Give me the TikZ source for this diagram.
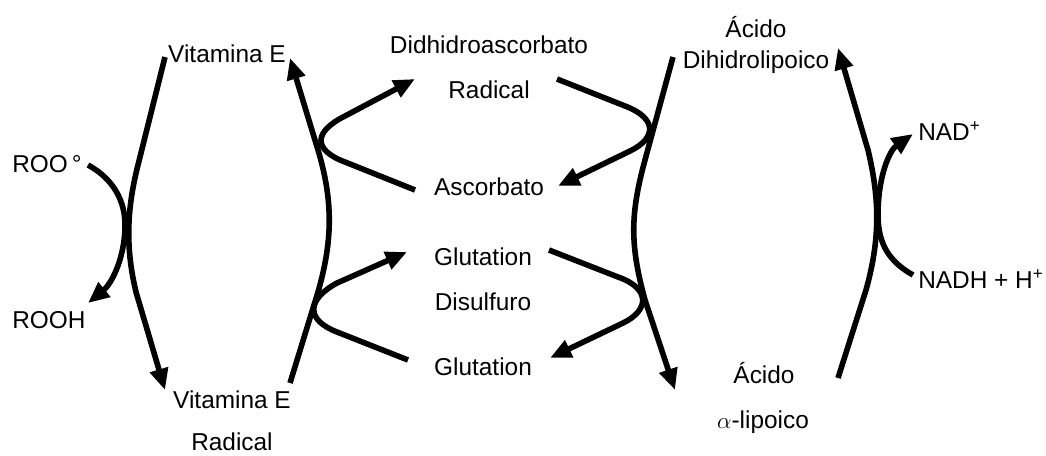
\documentclass[tikz,border=0pt]{standalone}
\usepackage{fontspec}
\setmainfont{Liberation Sans}
\usetikzlibrary{arrows.meta}
\begin{document}
\begin{tikzpicture}[x=0.75pt,y=-0.75pt,
  lbl/.style={inner sep=0pt,font=\fontsize{18.3}{22}\selectfont},
  rx/.style={line width=4.2pt,line join=round},
  rxa/.style={rx,-{Triangle[length=16pt,width=13.5pt]}}]
\useasboundingbox (0,0) rectangle (1046,455);
% labels
\node[lbl,anchor=base] (vitE) at (227,62) {Vitamina E};
\node[lbl,anchor=base west] (roo) at (12,172) {ROO\,°};
\node[lbl,anchor=base west] (rooh) at (12,328) {ROOH};
\node[lbl,anchor=base] (vitEr) at (232,408) {Vitamina E};
\node[lbl,anchor=base] (vitErad) at (232,450) {Radical};
\node[lbl,anchor=base] (dha) at (489,53) {Didhidroascorbato};
\node[lbl,anchor=base] (dhar) at (489,98) {Radical};
\node[lbl,anchor=base] (asc) at (489,195) {Ascorbato};
\node[lbl,anchor=base] (gssg) at (483,265) {Glutation};
\node[lbl,anchor=base] (gssgd) at (483,310) {Disulfuro};
\node[lbl,anchor=base] (gsh) at (483,375) {Glutation};
\node[lbl,anchor=base] (dhla) at (756,37) {Ácido};
\node[lbl,anchor=base] (dhlab) at (756,68) {Dihidrolipoico};
\node[lbl,anchor=base west] (nad) at (918,140) {NAD\textsuperscript{+}};
\node[lbl,anchor=base west] (nadh) at (918,288) {NADH + H\textsuperscript{+}};
\node[lbl,anchor=base] (la) at (764,383) {Ácido};
\node[lbl,anchor=base] (lab) at (763,428) {$\alpha$-lipoico};
% end points
\coordinate (c1s) at (165,57);
\coordinate (c1e) at (165,390);
\coordinate (c2s) at (88,165);
\coordinate (c2e) at (88,303);
\coordinate (c3s) at (290,383);
\coordinate (c3e) at (290,58);
\coordinate (l1s) at (415,190);
\coordinate (l1e) at (415,79);
\coordinate (l2s) at (408,360);
\coordinate (l2e) at (407,252);
\coordinate (r1s) at (557,79);
\coordinate (r1e) at (558,186);
\coordinate (r2s) at (549,250);
\coordinate (r2e) at (550,358);
\coordinate (c4s) at (673,57);
\coordinate (c4e) at (675,390);
\coordinate (c5s) at (838,378);
\coordinate (c5e) at (838,48);
\coordinate (c6s) at (913,275);
\coordinate (c6e) at (913,134);
% left group
\draw[rxa] (c1s) -- (138,165) .. controls (126,212) and (126,250) .. (136,292) -- (c1e);
\draw[rxa] (c2s) .. controls (112,178) and (126,200) .. (125,228) .. controls (124,262) and (110,285) .. (c2e);
\draw[rxa] (c3s) -- (318,292) .. controls (333,240) and (333,200) .. (318,150) -- (c3e);
% middle loops
\draw[rxa] (l1s) -- (345,162) .. controls (313,150) and (313,132) .. (345,116) -- (l1e);
\draw[rxa] (l2s) -- (337,332) .. controls (306,320) and (306,300) .. (337,283) -- (l2e);
\draw[rxa] (r1s) -- (625,106) .. controls (657,118) and (657,138) .. (630,151) -- (r1e);
\draw[rxa] (r2s) -- (618,277) .. controls (650,288) and (650,310) .. (623,323) -- (r2e);
% right group
\draw[rxa] (c4s) -- (645,160) .. controls (630,215) and (630,245) .. (645,300) -- (c4e);
\draw[rxa] (c5s) -- (866,290) .. controls (880,240) and (880,200) .. (868,150) -- (c5e);
\draw[rxa] (c6s) .. controls (890,262) and (878,245) .. (878,215) .. controls (878,175) and (890,150) .. (c6e);
\end{tikzpicture}
\end{document}
